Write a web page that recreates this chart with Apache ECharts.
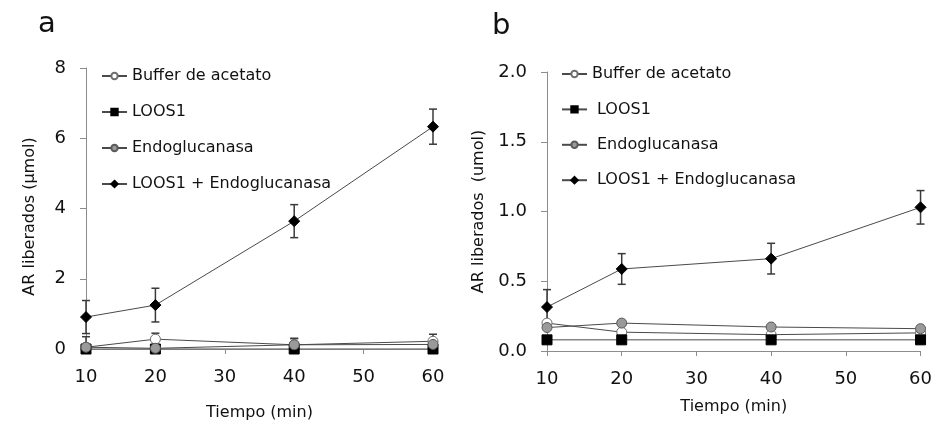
<!DOCTYPE html>
<html>
<head>
<meta charset="utf-8">
<script src="https://cdn.jsdelivr.net/npm/echarts@6/dist/echarts.min.js"></script>
<style>
  html, body {margin: 0; padding: 0; background: #fff;}
  #chart {width: 935px; height: 426px;}
</style>
</head>
<body>
<div id="chart"></div>
<script>
// 数据
var timesMin = [10, 20, 40, 60];
var seriesNames = ['Buffer de acetato', 'LOOS1', 'Endoglucanasa', 'LOOS1 + Endoglucanasa'];

// 面板 a
var aBuffer = [0.05, 0.28, 0.12, 0.22];
var aBufferErr = [0.30, 0.17, 0.18, 0.20];
var aLoos1 = [0.0, 0.0, 0.0, 0.0];
var aEndo = [0.05, 0.02, 0.12, 0.13];
var aEndoErr = [0.05, 0.05, 0.18, 0.15];
var aCombo = [0.91, 1.25, 3.64, 6.33];
var aComboErr = [0.47, 0.48, 0.47, 0.50];

// 面板 b
var bBuffer = [0.20, 0.135, 0.117, 0.13];
var bLoos1 = [0.08, 0.08, 0.08, 0.08];
var bEndo = [0.168, 0.20, 0.172, 0.16];
var bCombo = [0.315, 0.588, 0.662, 1.03];
var bComboErr = [0.125, 0.11, 0.11, 0.12];

var FONT = 'DejaVu Sans';
var lineGray = '#4a4a4a';
var axisGray = '#8c8c8c';

function pairs(ys) {
  return timesMin.map(function (x, i) { return [x, ys[i]]; });
}

// 样式定义
var styles = [
  {symbol: 'circle', size: 10, fill: '#ffffff', border: '#6e6e6e'},
  {symbol: 'rect', size: 10, fill: '#000000', border: '#000000'},
  {symbol: 'circle', size: 10, fill: '#9a9a9a', border: '#5a5a5a'},
  {symbol: 'diamond', size: 11, fill: '#000000', border: '#000000'}
];

function lineSeries(name, ys, idx, st) {
  return {
    name: name,
    type: 'line',
    xAxisIndex: idx,
    yAxisIndex: idx,
    data: pairs(ys),
    symbol: st.symbol,
    symbolSize: st.size,
    showAllSymbol: true,
    lineStyle: {color: lineGray, width: 1},
    itemStyle: {color: st.fill, borderColor: st.border, borderWidth: 1},
    emphasis: {disabled: true},
    z: 3
  };
}

// 误差棒
function errSeries(ys, errs, idx) {
  var d = timesMin.map(function (x, i) { return [x, ys[i], errs[i]]; });
  return {
    type: 'custom',
    name: 'err' + idx,
    xAxisIndex: idx,
    yAxisIndex: idx,
    data: d,
    z: 2,
    silent: true,
    renderItem: function (params, api) {
      var x = api.value(0), y = api.value(1), e = api.value(2);
      if (!e) return null;
      var hi = api.coord([x, y + e]);
      var lo = api.coord([x, Math.max(y - e, 0)]);
      var st = {stroke: '#3a3a3a', lineWidth: 1.5};
      return {
        type: 'group',
        children: [
          {type: 'line', shape: {x1: hi[0], y1: hi[1], x2: lo[0], y2: lo[1]}, style: st},
          {type: 'line', shape: {x1: hi[0] - 4, y1: hi[1], x2: hi[0] + 4, y2: hi[1]}, style: st},
          {type: 'line', shape: {x1: lo[0] - 4, y1: lo[1], x2: lo[0] + 4, y2: lo[1]}, style: st}
        ]
      };
    }
  };
}

function xAxisDef(idx, gap) {
  return {
    type: 'value', gridIndex: idx, min: 10, max: 60, interval: 10,
    name: 'Tiempo (min)', nameLocation: 'middle', nameGap: gap,
    nameTextStyle: {fontFamily: FONT, fontSize: 16, color: '#111'},
    axisLine: {show: true, onZero: false, lineStyle: {color: axisGray}},
    axisTick: {show: true, length: 5, lineStyle: {color: axisGray}},
    axisLabel: {fontFamily: FONT, fontSize: 18, color: '#111', margin: 19},
    splitLine: {show: false}
  };
}

function yAxisDef(idx, name, max, interval, dec, gap, pad) {
  return {
    type: 'value', gridIndex: idx, min: 0, max: max, interval: interval,
    name: name, nameLocation: 'middle', nameGap: gap, nameRotate: 90,
    nameTextStyle: {fontFamily: FONT, fontSize: 16, color: '#111', padding: pad},
    axisLine: {show: true, lineStyle: {color: axisGray}},
    axisTick: {show: true, length: 6, lineStyle: {color: axisGray}},
    axisLabel: {
      fontFamily: FONT, fontSize: 18, color: '#111', margin: 20,
      formatter: function (v) { return v.toFixed(dec); }
    },
    splitLine: {show: false}
  };
}

function legendDef(left, top, gap, extraPad) {
  return {
    orient: 'vertical', left: left, top: top, padding: 0,
    itemWidth: 25, itemHeight: 8, itemGap: gap,
    selectedMode: false,
    textStyle: {fontFamily: FONT, fontSize: 16, color: '#111'},
    data: seriesNames.map(function (n, i) {
      var item = {name: n};
      if (extraPad && i > 0) item.textStyle = {padding: [0, 0, 0, 5]};
      return item;
    })
  };
}

var option = {
  animation: false,
  backgroundColor: '#ffffff',
  title: [
    {text: 'a', left: 33, top: 5, textStyle: {fontFamily: FONT, fontSize: 29, fontWeight: 'normal', color: '#111'}},
    {text: 'b', left: 487, top: 7, textStyle: {fontFamily: FONT, fontSize: 29, fontWeight: 'normal', color: '#111'}}
  ],
  grid: [
    {left: 86, right: 502, top: 68, bottom: 76},
    {left: 547, right: 13, top: 72, bottom: 75}
  ],
  xAxis: [xAxisDef(0, 56), xAxisDef(1, 48)],
  yAxis: [
    yAxisDef(0, 'AR liberados (µmol)', 8, 2, 0, 48, [0, 16, 0, 0]),
    yAxisDef(1, 'AR liberados  (umol)', 2, 0.5, 1, 60, [0, 0, 0, 0])
  ],
  legend: [legendDef(101, 68, 20, false), legendDef(561, 66, 19.4, true)],
  series: [
    errSeries(aBuffer, aBufferErr, 0),
    errSeries(aEndo, aEndoErr, 0),
    errSeries(aCombo, aComboErr, 0),
    lineSeries(seriesNames[0], aBuffer, 0, styles[0]),
    lineSeries(seriesNames[1], aLoos1, 0, styles[1]),
    lineSeries(seriesNames[2], aEndo, 0, styles[2]),
    lineSeries(seriesNames[3], aCombo, 0, styles[3]),
    errSeries(bCombo, bComboErr, 1),
    lineSeries(seriesNames[0], bBuffer, 1, styles[0]),
    lineSeries(seriesNames[1], bLoos1, 1, styles[1]),
    lineSeries(seriesNames[2], bEndo, 1, styles[2]),
    lineSeries(seriesNames[3], bCombo, 1, styles[3])
  ]
};

var myChart = echarts.init(document.getElementById('chart'));
myChart.setOption(option);
</script>
</body>
</html>
